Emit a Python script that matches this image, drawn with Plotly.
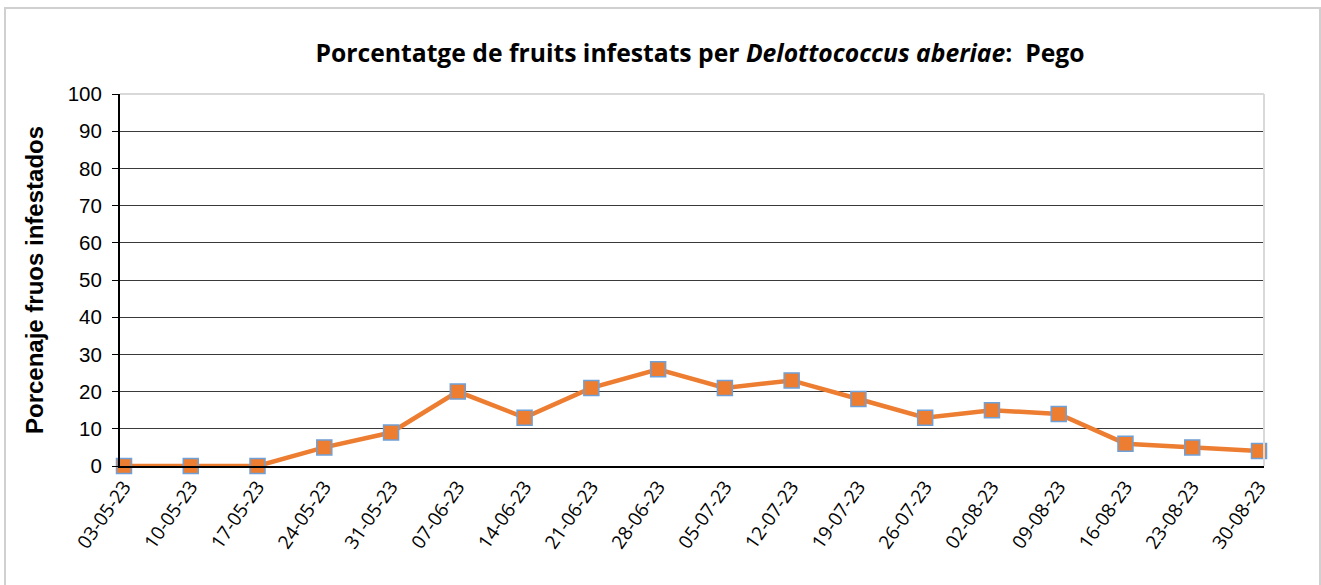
import plotly.graph_objects as go

dates = ["03-05-23", "10-05-23", "17-05-23", "24-05-23", "31-05-23", "07-06-23",
         "14-06-23", "21-06-23", "28-06-23", "05-07-23", "12-07-23", "19-07-23",
         "26-07-23", "02-08-23", "09-08-23", "16-08-23", "23-08-23", "30-08-23"]
values = [0, 0, 0, 5, 9, 20, 13, 21, 26, 21, 23, 18, 13, 15, 14, 6, 5, 4]
y_ticks = list(range(0, 101, 10))

W, H = 1321, 585
L, R, T, B = 120, 1264, 94, 466

fig = go.Figure()
fig.add_trace(go.Scatter(
    x=list(range(len(dates))), y=values, mode="lines+markers",
    line=dict(color="#ED7D31", width=4.5),
    marker=dict(symbol="square", size=15, color="#ED7D31",
                line=dict(color="#6FA0D8", width=1.5)),
    showlegend=False, cliponaxis=False,
))

def px(xp):
    return (xp - L) / (R - L)

def py(yp):
    return (B - yp) / (B - T)

shapes = [
    dict(type="rect", xref="paper", yref="paper", x0=px(5), x1=px(1320), y0=py(600), y1=py(8),
         line=dict(color="#D0D0D0", width=2), fillcolor="rgba(0,0,0,0)", layer="below"),
    dict(type="line", xref="paper", yref="paper", x0=0, x1=1, y0=1, y1=1,
         line=dict(color="#D9D9D9", width=2)),
    dict(type="line", xref="paper", yref="paper", x0=1, x1=1, y0=0, y1=1,
         line=dict(color="#D9D9D9", width=2)),
]

fig.update_layout(
    width=W, height=H,
    margin=dict(l=L, r=W - R, t=T, b=H - B, autoexpand=False),
    paper_bgcolor="white", plot_bgcolor="white",
    shapes=shapes,
    title=dict(
        text="<b>Porcentatge de fruits infestats per <i>Delottococcus aberiae</i>:  Pego</b>",
        x=700 / W, xanchor="center", y=1 - 53 / H, yanchor="middle",
        font=dict(family="Open Sans", size=24.7, color="black"),
    ),
    xaxis=dict(
        tickmode="array", tickvals=list(range(len(dates))), ticktext=dates,
        range=[-4 / 66.76, 17 + 5 / 66.76], automargin=False,
        tickangle=-55, showgrid=False, zeroline=False,
        showline=True, linecolor="black", linewidth=2,
        ticks="", tickfont=dict(family="Open Sans", size=19, color="black"),
    ),
    yaxis=dict(
        range=[0, 100], tickvals=y_ticks, showgrid=True, gridcolor="#3A3A3A", gridwidth=1,
        zeroline=False, showline=True, linecolor="black", linewidth=2, automargin=False,
        ticks="outside", ticklen=6, tickcolor="black", ticklabelstandoff=6,
        tickfont=dict(family="Liberation Sans", size=20.5, color="black"),
        title=dict(text="<b>Porcenaje fruos infestados</b>", standoff=17,
                   font=dict(family="Liberation Sans", size=24, color="black")),
    ),
)

fig.write_html("out.html", config={"displayModeBar": False},
               post_script="document.body.style.margin='0';")
